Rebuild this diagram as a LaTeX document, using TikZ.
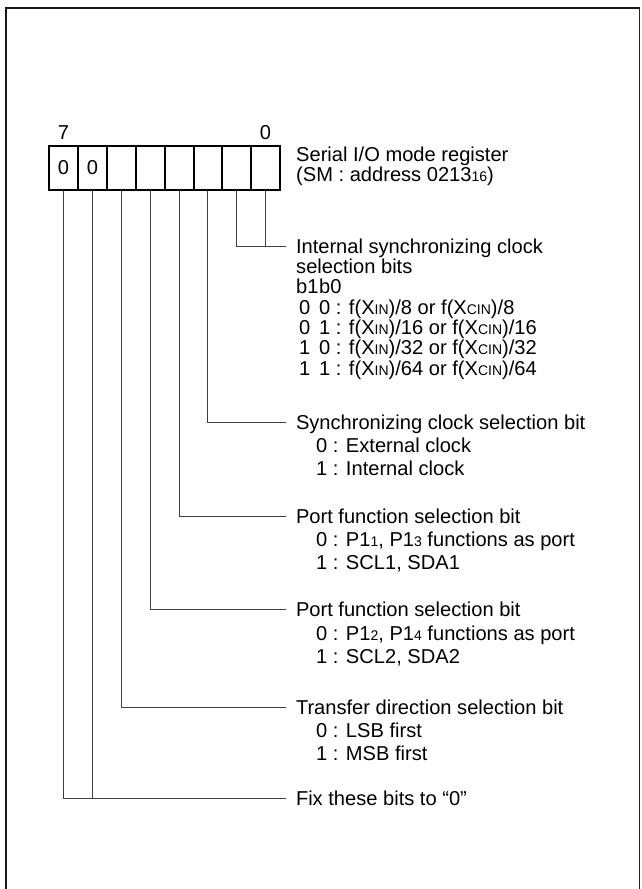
\documentclass[tikz,border=0pt]{standalone}
\usepackage{fontspec}
\setmainfont{Liberation Sans}
\newcommand\sbs[1]{{\fontsize{14}{14}\selectfont #1}}
\begin{document}
\begin{tikzpicture}[x=1pt,y=-1pt,
  txt/.style={anchor=west,inner sep=0pt,text height=14.5pt,text depth=0pt,font=\fontsize{20.1}{23}\selectfont},
  ttl/.style={txt,outer xsep=10pt},
  cell/.style={draw,line width=2pt,minimum width=28.9pt,minimum height=44pt,inner sep=0pt,font=\fontsize{20.1}{23}\selectfont},
  lead/.style={line width=1pt,draw=black!75},
  frame/.style={line width=2.3pt,draw=black!90}]
\useasboundingbox (0,0) rectangle (641,889);
% outer frame
\draw[frame] (6,889) -- (6,8) -- (640,8);
\draw[line width=1pt,draw=black!85] (639.5,8) -- (639.5,889);
% register cells
\foreach \b/\t in {7/0,6/0,5/,4/,3/,2/,1/,0/}{
  \node[cell] (c\b) at ({49+28.9*(7-\b+0.5)},168) {\raisebox{-2pt}{\t}};
}
\node[txt,anchor=center] (n7) at (63.5,132) {7};
\node[txt,anchor=center] (n0) at (265.5,132) {0};
\node[txt] (reg1) at (296,154.5) {Serial I/O mode register};
\node[txt] (reg2) at (296,174.5) {(SM : address 0213\sbs{16})};
% bits 1,0
\node[ttl] (t1) at (286,246) {Internal synchronizing clock};
\node[txt] (t1a) at (296,266.3) {selection bits};
\node[txt] (t1h1) at (296,286.6) {b1};
\node[txt] (t1h0) at (319,286.6) {b0};
\node[txt] (r1a) at (299,306.9) {0};
\node[txt] (r1b) at (319,306.9) {0 : f(X\sbs{IN})/8 or f(X\sbs{CIN})/8};
\node[txt] (r2a) at (299,327.2) {0};
\node[txt] (r2b) at (319,327.2) {1 : f(X\sbs{IN})/16 or f(X\sbs{CIN})/16};
\node[txt] (r3a) at (299,347.5) {1};
\node[txt] (r3b) at (319,347.5) {0 : f(X\sbs{IN})/32 or f(X\sbs{CIN})/32};
\node[txt] (r4a) at (299,367.8) {1};
\node[txt] (r4b) at (319,367.8) {1 : f(X\sbs{IN})/64 or f(X\sbs{CIN})/64};
% bit 2
\node[ttl] (t2) at (286,422) {Synchronizing clock selection bit};
\node[txt] (t2a) at (316,445.3) {0 : External clock};
\node[txt] (t2b) at (316,468.6) {1 : Internal clock};
% bit 3
\node[ttl] (t3) at (286,516) {Port function selection bit};
\node[txt] (t3a) at (316,539.3) {0 : P1\sbs{1}, P1\sbs{3} functions as port};
\node[txt] (t3b) at (316,562.6) {1 : SCL1, SDA1};
% bit 4
\node[ttl] (t4) at (286,609.5) {Port function selection bit};
\node[txt] (t4a) at (316,632.8) {0 : P1\sbs{2}, P1\sbs{4} functions as port};
\node[txt] (t4b) at (316,656.1) {1 : SCL2, SDA2};
% bit 5
\node[ttl] (t5) at (286,707) {Transfer direction selection bit};
\node[txt] (t5a) at (316,730.3) {0 : LSB first};
\node[txt] (t5b) at (316,753.6) {1 : MSB first};
% bits 7,6
\node[ttl] (t6) at (286,798) {Fix these bits to “0”};
% leaders
\draw[lead] (c1.south) |- (t1.west);
\draw[lead] (c0.south) -- (c0.south |- t1.west);
\draw[lead] (c2.south) |- (t2.west);
\draw[lead] (c3.south) |- (t3.west);
\draw[lead] (c4.south) |- (t4.west);
\draw[lead] (c5.south) |- (t5.west);
\draw[lead] (c7.south) |- (t6.west);
\draw[lead] (c6.south) -- (c6.south |- t6.west);
\end{tikzpicture}
\end{document}
